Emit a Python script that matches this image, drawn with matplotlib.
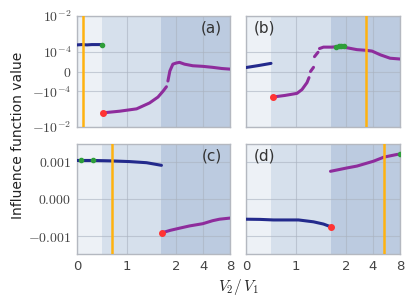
import numpy as np
import matplotlib
matplotlib.use("Agg")
import matplotlib.pyplot as plt

plt.rcParams['mathtext.fontset'] = 'cm'
plt.rcParams['font.family'] = ['DejaVu Sans']

nan = np.nan
# ---------------- data ----------------
bands = [(0.0, 0.5), (0.5, 1.7), (1.7, 8.0)]
band_colors = ['#edf1f6', '#d6e0ec', '#bccbe0']

x_ticks = [0, 1, 2, 4, 8]
x_ticklabels = ['0', '1', '2', '4', '8']
sym_yticks = [-1e-2, -1e-4, 0, 1e-4, 1e-2]
sym_yticklabels = [r'$-10^{-2}$', r'$-10^{-4}$', r'$0$', r'$10^{-4}$', r'$10^{-2}$']
lin_yticks = [-0.001, 0.0, 0.001]
lin_yticklabels = [r'$-0.001$', r'$0.000$', r'$0.001$']
panel_labels = ['(a)', '(b)', '(c)', '(d)']

# panel (a)
a_blue_x = [0.0, 0.1, 0.2, 0.3, 0.4, 0.5]
a_blue_y = [2.4e-4, 2.5e-4, 2.4e-4, 2.5e-4, 2.5e-4, 2.5e-4]
a_purple_x = [0.53, 0.86, 1.2, 1.46, 1.63, 1.73, 1.80, nan, 1.83, 1.87, 1.93, 2.0, 2.17, 2.47, 3.06, 3.96, 5.1, 6.5, 8.0]
a_purple_y = [-1.6e-3, -1.3e-3, -9.6e-4, -4.5e-4, -2.1e-4, -1.0e-4, -7.7e-5, nan, -4.8e-5, 3e-6, 3.7e-5, 4.3e-5,
              4.6e-5, 3.7e-5, 2.9e-5, 2.6e-5, 2.1e-5, 1.5e-5, 1.2e-5]
a_red = (0.53, -1.6e-3)
a_green_x = [0.5]
a_green_y = [2.5e-4]
a_vline = 0.12

# panel (b)
b_blue_x = [0.0, 0.25, 0.5]
b_blue_y = [2.0e-5, 3.0e-5, 4.1e-5]
b_purple_x = [0.53, 0.78, 1.02, 1.12, 1.22, 1.26, nan, 1.29, 1.35, nan, 1.37, 1.44, nan,
              1.47, 1.55, 1.72, 1.89, 2.0, 2.65, 3.43, 3.9, 4.84, 6.2, 8.0]
b_purple_y = [-2.1e-4, -1.7e-4, -1.3e-4, -9.1e-5, -5.6e-5, -3.1e-5, nan, 0.0, 2.1e-5, nan, 7.5e-5, 9.7e-5, nan,
              1.5e-4, 1.8e-4, 1.8e-4, 2.0e-4, 1.7e-4, 1.3e-4, 1.18e-4, 1.08e-4, 8.4e-5, 6.7e-5, 6.3e-5]
b_red = (0.53, -2.1e-4)
b_green_x = [1.8, 1.85, 1.9, 1.95]
b_green_y = [1.95e-4, 2.0e-4, 2.0e-4, 2.0e-4]
b_vline = 3.37

# panel (c)
c_blue_x = [0.0, 0.33, 0.66, 1.06, 1.40, 1.70]
c_blue_y = [1.03e-3, 1.03e-3, 1.02e-3, 1.0e-3, 0.97e-3, 0.90e-3]
c_purple_x = [1.72, 1.87, 2.17, 2.81, 3.96, 5.1, 6.1, 8.0]
c_purple_y = [-0.90e-3, -0.84e-3, -0.78e-3, -0.72e-3, -0.66e-3, -0.58e-3, -0.54e-3, -0.51e-3]
c_red = (1.72, -0.90e-3)
c_green_x = [0.09, 0.33]
c_green_y = [1.03e-3, 1.03e-3]
c_vline = 0.71

# panel (d)
d_blue_x = [0.0, 0.28, 0.55, 1.05, 1.35, 1.55, 1.69]
d_blue_y = [-0.54e-3, -0.545e-3, -0.56e-3, -0.56e-3, -0.61e-3, -0.67e-3, -0.74e-3]
d_purple_x = [1.69, 2.05, 2.65, 4.05, 5.3, 7.4, 8.0]
d_purple_y = [0.74e-3, 0.83e-3, 0.88e-3, 1.01e-3, 1.12e-3, 1.19e-3, 1.2e-3]
d_red = (1.69, -0.74e-3)
d_green_x = [8.0]
d_green_y = [1.2e-3]
d_vline = 5.26

# ---------------- styling ----------------
BLUE = '#232a8c'
PURPLE = '#8e2c9c'
RED = '#ff3333'
GREEN = '#2e9e3a'
ORANGE = '#ffb20f'
TICKC = '#444444'


def fwd(x):
    x = np.asarray(x, dtype=float)
    return np.where(x <= 2, x, 2 + 0.54 * np.log2(np.maximum(x, 2) / 2))


def inv(y):
    y = np.asarray(y, dtype=float)
    return np.where(y <= 2, y, 2 * 2 ** ((np.maximum(y, 2) - 2) / 0.54))


fig = plt.figure(figsize=(4.16, 3.07), dpi=100)
W, H = 416, 307


def add_ax(l, r, t, b):
    return fig.add_axes([l / W, 1 - b / H, (r - l) / W, (b - t) / H])


axA = add_ax(77, 230, 16, 127)
axB = add_ax(246, 400, 16, 127)
axC = add_ax(77, 230, 144, 254)
axD = add_ax(246, 400, 144, 254)

panels = [
    (axA, a_blue_x, a_blue_y, a_purple_x, a_purple_y, a_red, a_green_x, a_green_y, a_vline, 'sym'),
    (axB, b_blue_x, b_blue_y, b_purple_x, b_purple_y, b_red, b_green_x, b_green_y, b_vline, 'sym'),
    (axC, c_blue_x, c_blue_y, c_purple_x, c_purple_y, c_red, c_green_x, c_green_y, c_vline, 'lin'),
    (axD, d_blue_x, d_blue_y, d_purple_x, d_purple_y, d_red, d_green_x, d_green_y, d_vline, 'lin'),
]

for i, (ax, bx, by, px, py, red, gx, gy, vl, kind) in enumerate(panels):
    ax.set_xscale('function', functions=(fwd, inv))
    ax.set_xlim(0, 8)
    if kind == 'sym':
        ax.set_yscale('symlog', linthresh=1e-4, linscale=1.0)
        ax.set_ylim(-1e-2, 1e-2)
        ax.set_yticks(sym_yticks)
        ax.set_yticklabels(sym_yticklabels)
    else:
        ax.set_ylim(-0.00147, 0.00147)
        ax.set_yticks(lin_yticks)
        ax.set_yticklabels(lin_yticklabels)
    ax.minorticks_off()
    ax.set_xticks(x_ticks)
    ax.set_xticklabels(x_ticklabels)
    for (b0, b1), bc in zip(bands, band_colors):
        ax.axvspan(b0, b1, color=bc, lw=0, zorder=0)
    ax.grid(True, color='#aab2bf', lw=0.8, alpha=0.6, zorder=1)
    ax.set_axisbelow(True)
    ax.plot(bx, by, color=BLUE, lw=2.2, solid_capstyle='round', zorder=3)
    ax.plot(px, py, color=PURPLE, lw=2.2, solid_capstyle='round', zorder=3)
    ax.axvline(vl, color=ORANGE, lw=1.8, zorder=4)
    ax.plot([red[0]], [red[1]], 'o', color=RED, ms=4, zorder=5)
    ax.plot(gx, gy, 'o', color=GREEN, ms=3, zorder=5)
    ax.tick_params(length=0, colors=TICKC, labelsize=10, pad=4)
    ax.tick_params(axis='x', labelsize=9.5)
    for sp in ax.spines.values():
        sp.set_color('#b4b8c0')
        sp.set_linewidth(1.0)
    if i in (1, 3):
        ax.tick_params(labelleft=False)
    if i in (0, 1):
        ax.tick_params(labelbottom=False)
    if i in (0, 2):
        ax.text(0.95, 0.89, panel_labels[i], transform=ax.transAxes, ha='right', va='center',
                fontsize=11, color='#333333')
    else:
        ax.text(0.05, 0.89, panel_labels[i], transform=ax.transAxes, ha='left', va='center',
                fontsize=11, color='#333333')

fig.text(18 / W, 1 - 135 / H, 'Influence function value', rotation=90, ha='center', va='center',
         fontsize=10, color='#222222')
fig.text(238 / W, 1 - 287 / H, r'$V_2/\,V_1$', ha='center', va='center', fontsize=11, color='#222222')

fig.savefig('out.png', dpi=100)
